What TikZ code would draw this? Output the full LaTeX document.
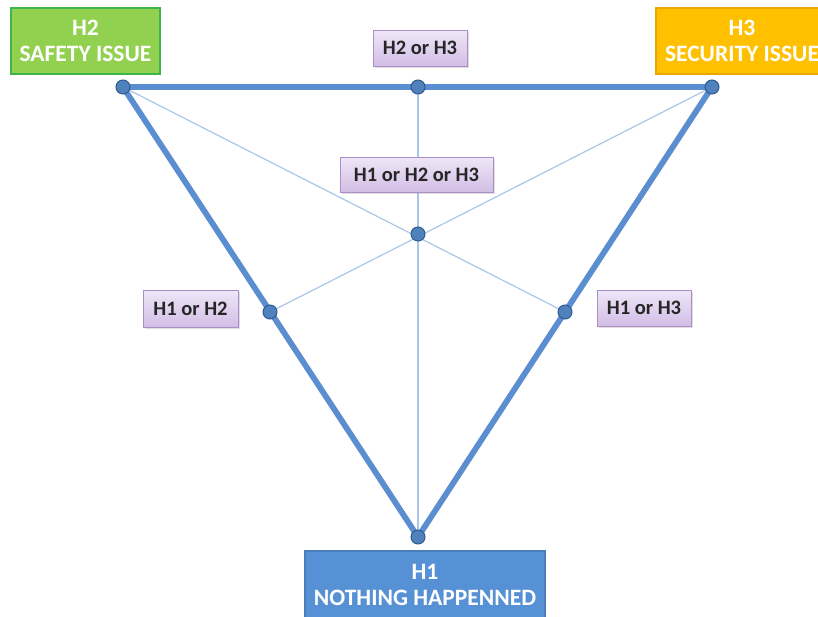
\documentclass[tikz,border=0pt]{standalone}
\usepackage{fontspec}
\setmainfont{Carlito}
\usetikzlibrary{shadows}
\definecolor{thick}{HTML}{5A8ED0}
\definecolor{thin}{HTML}{A9C6E8}
\definecolor{dotfill}{HTML}{4F81BD}
\definecolor{dotdraw}{HTML}{2F5A8F}
\definecolor{lavtop}{HTML}{EFE6F7}
\definecolor{lavbot}{HTML}{D2BEE6}
\definecolor{lavdraw}{HTML}{A98FC6}
\definecolor{greenfill}{HTML}{92D050}
\definecolor{greendraw}{HTML}{3DB54A}
\definecolor{orangefill}{HTML}{FFC000}
\definecolor{orangedraw}{HTML}{E8A800}
\definecolor{bluefill}{HTML}{5690D5}
\definecolor{bluedraw}{HTML}{4A7EBB}
\begin{document}
\begin{tikzpicture}[x=1pt,y=-1pt,
  edge/.style={draw=thick,line width=5.8pt},
  spoke/.style={draw=thin,line width=1.2pt},
  dot/.style={circle,fill=dotfill,draw=dotdraw,line width=1pt,minimum size=14pt,inner sep=0pt},
  lab/.style={draw=lavdraw,line width=0.8pt,top color=lavtop,bottom color=lavbot,
    font=\bfseries\fontsize{20.5}{22}\selectfont,text=black!85,inner sep=0pt,
    drop shadow={shadow xshift=1.5pt,shadow yshift=-1.5pt,opacity=0.25}},
  cat/.style={line width=1.2pt,font=\bfseries\fontsize{23.5}{26}\selectfont,text=white,align=center,inner sep=0pt}]
\useasboundingbox (0,0) rectangle (818,616);
\clip (0,0) rectangle (818,616);
% points
\coordinate (A) at (123,87);
\coordinate (B) at (712,87);
\coordinate (C) at (418,537);
\coordinate (T) at (418,87);
\coordinate (L) at (270,312);
\coordinate (R) at (565,312);
\coordinate (M) at (418,234);
% thin spokes
\draw[spoke] (A) -- (R);
\draw[spoke] (B) -- (L);
\draw[spoke] (T) -- (C);
% triangle
\draw[edge,line join=round] (A) -- (B) -- (C) -- cycle;
% dots
\foreach \p in {A,B,C,T,L,R,M} \node[dot] (d\p) at (\p) {};
% category boxes
\node[cat,fill=greenfill,draw=greendraw,minimum width=149pt,minimum height=66pt] (h2) at (85.5,41) {H2\\SAFETY ISSUE};
\node[cat,fill=orangefill,draw=orangedraw,minimum width=172pt,minimum height=66pt] (h3) at (742,41) {H3\\SECURITY ISSUE};
\node[cat,fill=bluefill,draw=bluedraw,minimum width=240pt,minimum height=80pt] (h1) at (425,591) {};
\node[font=\bfseries\fontsize{23.5}{26}\selectfont,text=white,align=center,inner sep=0pt] (h1t) at (425,585) {H1\\NOTHING HAPPENNED};
% labels
\node[lab,minimum width=94pt,minimum height=36pt] (l23) at (420,48) {H2 or H3};
\node[lab,minimum width=153pt,minimum height=35pt] (l123) at (416.5,174.5) {H1 or H2 or H3};
\node[lab,minimum width=95pt,minimum height=37pt] (l12) at (190.5,308.5) {H1 or H2};
\node[lab,minimum width=94pt,minimum height=36pt] (l13) at (644,308) {H1 or H3};
\end{tikzpicture}
\end{document}
